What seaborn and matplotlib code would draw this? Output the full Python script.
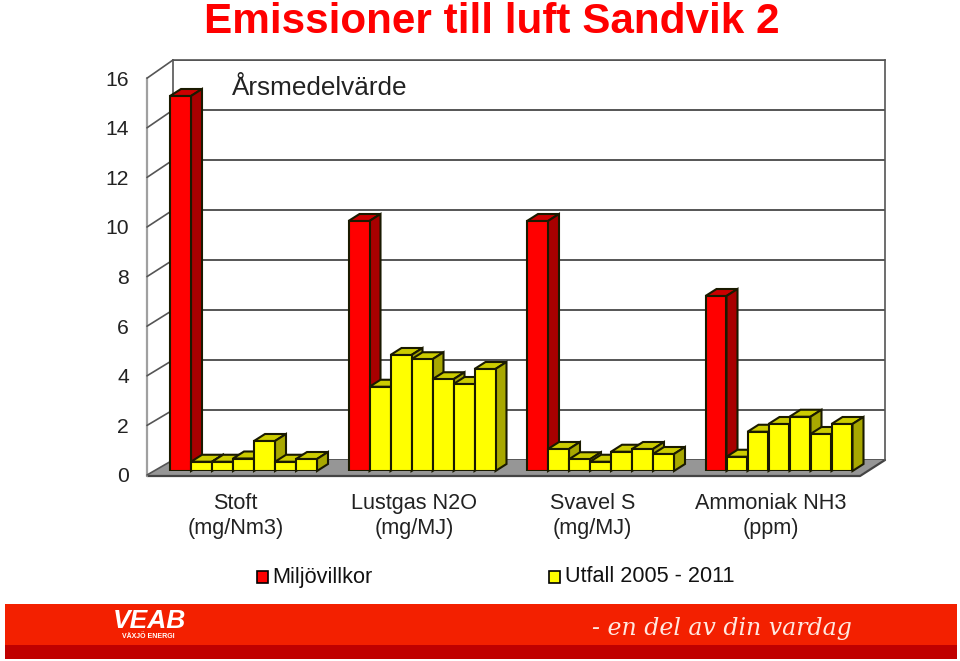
import numpy as np
import pandas as pd
import seaborn as sns
import matplotlib
matplotlib.use("Agg")
import matplotlib.pyplot as plt
from matplotlib.patches import Polygon, Rectangle
from matplotlib.transforms import ScaledTranslation

W, H = 960, 661

# chart data
categories = ["Stoft\n(mg/Nm3)", "Lustgas N2O\n(mg/MJ)", "Svavel S\n(mg/MJ)", "Ammoniak NH3\n(ppm)"]
series_names = ["Miljövillkor", "2006", "2007", "2008", "2009", "2010", "2011"]
miljovillkor = [15, 10, 10, 7]
utfall_2006 = [0.37, 3.37, 0.88, 0.57]
utfall_2007 = [0.37, 4.64, 0.47, 1.57]
utfall_2008 = [0.5, 4.47, 0.37, 1.88]
utfall_2009 = [1.2, 3.67, 0.77, 2.17]
utfall_2010 = [0.37, 3.48, 0.88, 1.48]
utfall_2011 = [0.48, 4.08, 0.68, 1.88]
y_ticks = [0, 2, 4, 6, 8, 10, 12, 14, 16]

RED, YELLOW = "#ff0000", "#ffff00"
RED_TOP, RED_SIDE = "#cc0000", "#a80000"
YEL_TOP, YEL_SIDE = "#cccc00", "#a8a800"
EDGE = "#1a1a00"
WALL = "#555555"

sns.set_theme(style="white")
plt.rcParams["font.family"] = ["Liberation Sans", "DejaVu Sans"]


def px_axes(fig, left, top, right, bottom, **kw):
    return fig.add_axes([left / W, 1 - bottom / H, (right - left) / W, (bottom - top) / H], **kw)


df = pd.DataFrame({
    "group": categories * 7,
    "series": np.repeat(series_names, 4),
    "value": miljovillkor + utfall_2006 + utfall_2007 + utfall_2008 + utfall_2009 + utfall_2010 + utfall_2011,
})

fig = plt.figure(figsize=(W / 100, H / 100), dpi=100)

# overlay in pixel coordinates for floor, side wall, footer and texts
deco = fig.add_axes([0, 0, 1, 1], zorder=0)
deco.set_xlim(0, W)
deco.set_ylim(H, 0)
deco.axis("off")

deco.add_patch(Polygon([(147, 475), (860, 475), (885, 460), (173, 460)], fc="#969696", ec="none"))
deco.plot([147, 860, 885], [476, 476, 460], color="#444444", lw=1.6)
deco.plot([147, 147], [78, 476], color="#a0a0a0", lw=1.6)
for i in range(len(y_ticks)):
    deco.plot([147, 173], [475 - i * 49.6, 460 - i * 50], color=WALL, lw=1.2)

# front scale with the tick labels
front = px_axes(fig, 147, 78, 148, 475, zorder=1)
front.set_ylim(0, 16)
front.set_yticks(y_ticks)
front.set_xticks([])
front.patch.set_alpha(0)
sns.despine(ax=front, left=True, bottom=True)
front.tick_params(axis="y", length=0, pad=13, labelsize=15.2, labelcolor="#222222")

# back wall
back = px_axes(fig, 173, 60, 885, 460, zorder=1)
back.set_ylim(0, 16)
back.set_yticks(y_ticks)
back.set_xticks([])
back.set_yticklabels([])
back.tick_params(length=0)
back.grid(axis="y", color=WALL, lw=1.4)
for side in back.spines.values():
    side.set_color(WALL)
    side.set_linewidth(1.2)
back.spines["bottom"].set_visible(False)
back.set_facecolor("white")

# bars
ax = px_axes(fig, 154.25, 71, 868.25, 471, zorder=2)
palette = dict(zip(series_names, [RED] + [YELLOW] * 6))
sns.barplot(data=df, x="group", y="value", hue="series", hue_order=series_names, order=categories,
            palette=palette, saturation=1, width=147 / 178.5, gap=0, legend=False,
            edgecolor=EDGE, linewidth=1.5, errorbar=None, ax=ax)
ax.set_xlim(-0.5, 3.5)
ax.set_ylim(0, 16)
ax.patch.set_alpha(0)
ax.set_xlabel("")
ax.set_ylabel("")
ax.set_yticks([])
sns.despine(ax=ax, left=True, bottom=True)

# depth of the 3D bars
dx, dy = 11 / 178.5, 7 / 25
bars = sorted(ax.patches, key=lambda b: b.get_x())
for i, bar in enumerate(bars):
    x0, w, h = bar.get_x(), bar.get_width(), bar.get_height()
    is_red = bar.get_facecolor()[1] == 0
    top_c, side_c = (RED_TOP, RED_SIDE) if is_red else (YEL_TOP, YEL_SIDE)
    z = 3 + i * 0.01
    ax.add_patch(Polygon([(x0, h), (x0 + dx, h + dy), (x0 + w + dx, h + dy), (x0 + w, h)],
                         fc=top_c, ec=EDGE, lw=1.5, zorder=z, clip_on=False))
    ax.add_patch(Polygon([(x0 + w, 0), (x0 + w + dx, dy), (x0 + w + dx, h + dy), (x0 + w, h)],
                         fc=side_c, ec=EDGE, lw=1.5, zorder=z, clip_on=False))
    bar.set_zorder(z + 0.001)

# category labels sit a little left of the bar groups
ax.tick_params(axis="x", length=0, pad=15.7, labelsize=15.6, labelcolor="#222222")
shift = ScaledTranslation(-8 / 100, 0, fig.dpi_scale_trans)
for lab in ax.get_xticklabels():
    lab.set_transform(lab.get_transform() + shift)
    lab.set_linespacing(1.25)

# titles
deco.text(492, 33, "Emissioner till luft Sandvik 2", color="#ff0000", fontsize=30.4, fontweight="bold",
          ha="center", va="baseline")
# fig.text, so that it stays above the back wall axes
fig.text(232 / W, 1 - 95 / H, "Årsmedelvärde", fontsize=18.8, color="#222222", va="baseline", zorder=5)

# legend
deco.add_patch(Rectangle((257, 571), 11, 12, fc=RED, ec="black", lw=1.2))
deco.text(272, 582.5, "Miljövillkor", fontsize=15.6, color="#111111", va="baseline")
deco.add_patch(Rectangle((549, 571), 11, 12, fc=YELLOW, ec="black", lw=1.2))
deco.text(565, 582.5, "Utfall 2005 - 2011", fontsize=15.6, color="#111111", va="baseline")

# footer band
deco.add_patch(Rectangle((5, 604), 952, 42, fc="#f32000", ec="none"))
deco.add_patch(Rectangle((5, 645), 952, 14, fc="#c00000", ec="none"))
deco.text(113, 621, "VEAB", color="white", fontsize=19, fontweight="bold", fontstyle="italic",
          va="center", family="Liberation Sans")
deco.text(122, 636.5, "VÄXJÖ ENERGI", color="white", fontsize=5, fontweight="bold", va="center")
deco.text(592, 628, "- en del av din vardag", color="#ffe8e0", fontsize=17, fontstyle="italic", va="center",
          family="DejaVu Serif")

fig.savefig("out.png", dpi=100, facecolor="white")
